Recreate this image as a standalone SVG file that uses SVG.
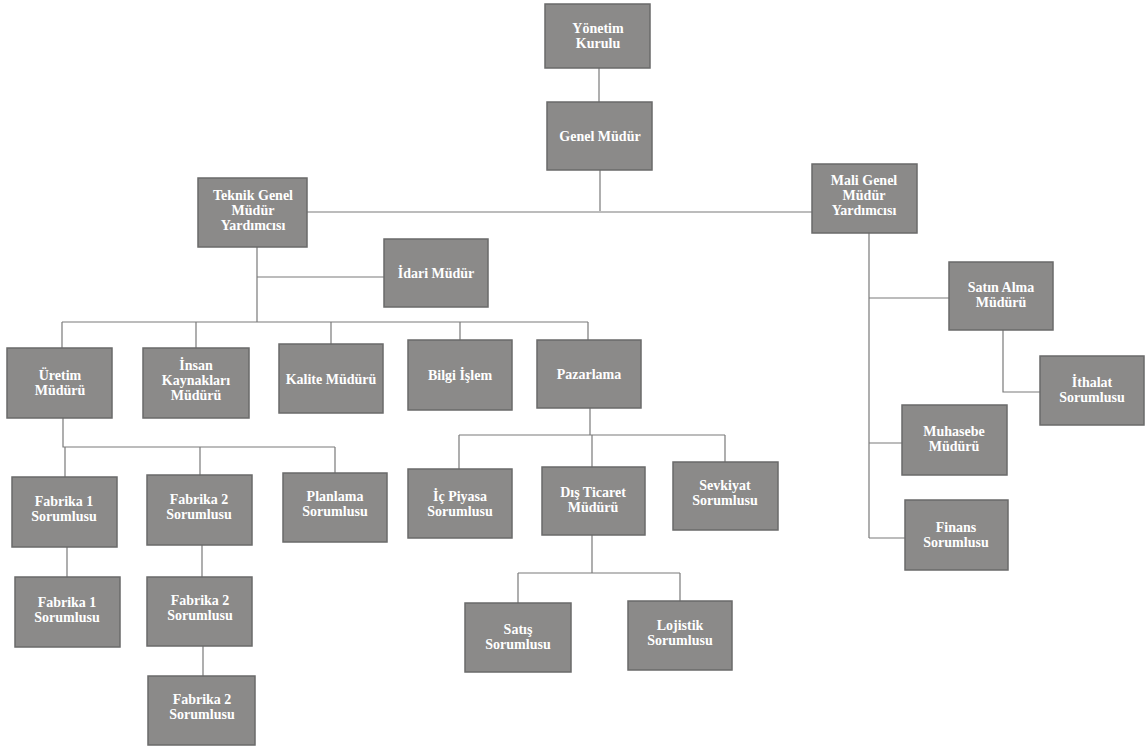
<svg xmlns="http://www.w3.org/2000/svg" width="1145" height="748" viewBox="0 0 1145 748">
<style>
.b{fill:#8b8a89;stroke:#6a6a6a;stroke-width:1.5}
.t{fill:#fff;font-family:"Liberation Serif",serif;font-weight:bold;font-size:14px;text-anchor:middle}
.c{fill:none;stroke:#7a7a7a;stroke-width:1.2}
</style>
<rect width="1145" height="748" fill="#fff"/>
<g id="connectors" class="c">
<path d="M599 68V102"/>
<path d="M600 170V211M307 212H812"/>
<path d="M257 247V322M257 277H384"/>
<path d="M62 322H588M62 322V348M196 322V348M331 322V344M460 322V340M588 322V340"/>
<path d="M63 418V447H335M65 447V477M200 447V475M335 447V473"/>
<path d="M67 547V577M202 545V577M203 646V676"/>
<path d="M590 408V435M459 435H725M459 435V469M592 435V467M725 435V462"/>
<path d="M592 535V573M518 573H680M518 573V603M680 573V601"/>
<path d="M869 233V538M869 298H949M869 443H902M869 538H905"/>
<path d="M1003 330V392H1040"/>
</g>
<g id="n1"><rect class="b" x="545" y="4" width="105" height="64"/><text class="t" x="598" y="33">Yönetim</text><text class="t" x="598" y="48">Kurulu</text></g>
<g id="n2"><rect class="b" x="547" y="102" width="105" height="68"/><text class="t" x="600" y="141">Genel Müdür</text></g>
<g id="n3"><rect class="b" x="198" y="178" width="109" height="69"/><text class="t" x="253" y="200">Teknik Genel</text><text class="t" x="253" y="215">Müdür</text><text class="t" x="253" y="230">Yardımcısı</text></g>
<g id="n4"><rect class="b" x="812" y="164" width="105" height="69"/><text class="t" x="864" y="185">Mali Genel</text><text class="t" x="864" y="200">Müdür</text><text class="t" x="864" y="215">Yardımcısı</text></g>
<g id="n5"><rect class="b" x="384" y="239" width="104" height="68"/><text class="t" x="436" y="278">İdari Müdür</text></g>
<g id="n6"><rect class="b" x="7" y="348" width="105" height="70"/><text class="t" x="60" y="380">Üretim</text><text class="t" x="60" y="395">Müdürü</text></g>
<g id="n7"><rect class="b" x="143" y="348" width="106" height="70"/><text class="t" x="196" y="370">İnsan</text><text class="t" x="196" y="385">Kaynakları</text><text class="t" x="196" y="400">Müdürü</text></g>
<g id="n8"><rect class="b" x="279" y="344" width="104" height="69"/><text class="t" x="331" y="384">Kalite Müdürü</text></g>
<g id="n9"><rect class="b" x="408" y="340" width="104" height="70"/><text class="t" x="460" y="380">Bilgi İşlem</text></g>
<g id="n10"><rect class="b" x="537" y="340" width="104" height="68"/><text class="t" x="589" y="379">Pazarlama</text></g>
<g id="n11"><rect class="b" x="949" y="262" width="104" height="68"/><text class="t" x="1001" y="292">Satın Alma</text><text class="t" x="1001" y="307">Müdürü</text></g>
<g id="n12"><rect class="b" x="1040" y="356" width="104" height="69"/><text class="t" x="1092" y="387">İthalat</text><text class="t" x="1092" y="402">Sorumlusu</text></g>
<g id="n13"><rect class="b" x="902" y="405" width="105" height="70"/><text class="t" x="954" y="436">Muhasebe</text><text class="t" x="954" y="451">Müdürü</text></g>
<g id="n14"><rect class="b" x="905" y="500" width="103" height="70"/><text class="t" x="956" y="532">Finans</text><text class="t" x="956" y="547">Sorumlusu</text></g>
<g id="n15"><rect class="b" x="12" y="477" width="105" height="70"/><text class="t" x="64" y="506">Fabrika 1</text><text class="t" x="64" y="521">Sorumlusu</text></g>
<g id="n16"><rect class="b" x="147" y="475" width="105" height="70"/><text class="t" x="199" y="504">Fabrika 2</text><text class="t" x="199" y="519">Sorumlusu</text></g>
<g id="n17"><rect class="b" x="283" y="473" width="104" height="69"/><text class="t" x="335" y="501">Planlama</text><text class="t" x="335" y="516">Sorumlusu</text></g>
<g id="n18"><rect class="b" x="408" y="469" width="104" height="69"/><text class="t" x="460" y="501">İç Piyasa</text><text class="t" x="460" y="516">Sorumlusu</text></g>
<g id="n19"><rect class="b" x="542" y="467" width="103" height="68"/><text class="t" x="593" y="497">Dış Ticaret</text><text class="t" x="593" y="512">Müdürü</text></g>
<g id="n20"><rect class="b" x="673" y="462" width="105" height="68"/><text class="t" x="725" y="490">Sevkiyat</text><text class="t" x="725" y="505">Sorumlusu</text></g>
<g id="n21"><rect class="b" x="15" y="577" width="105" height="70"/><text class="t" x="67" y="607">Fabrika 1</text><text class="t" x="67" y="622">Sorumlusu</text></g>
<g id="n22"><rect class="b" x="147" y="577" width="105" height="69"/><text class="t" x="200" y="605">Fabrika 2</text><text class="t" x="200" y="620">Sorumlusu</text></g>
<g id="n23"><rect class="b" x="148" y="676" width="107" height="69"/><text class="t" x="202" y="704">Fabrika 2</text><text class="t" x="202" y="719">Sorumlusu</text></g>
<g id="n24"><rect class="b" x="465" y="603" width="106" height="69"/><text class="t" x="518" y="634">Satış</text><text class="t" x="518" y="649">Sorumlusu</text></g>
<g id="n25"><rect class="b" x="628" y="601" width="104" height="69"/><text class="t" x="680" y="630">Lojistik</text><text class="t" x="680" y="645">Sorumlusu</text></g>
</svg>
